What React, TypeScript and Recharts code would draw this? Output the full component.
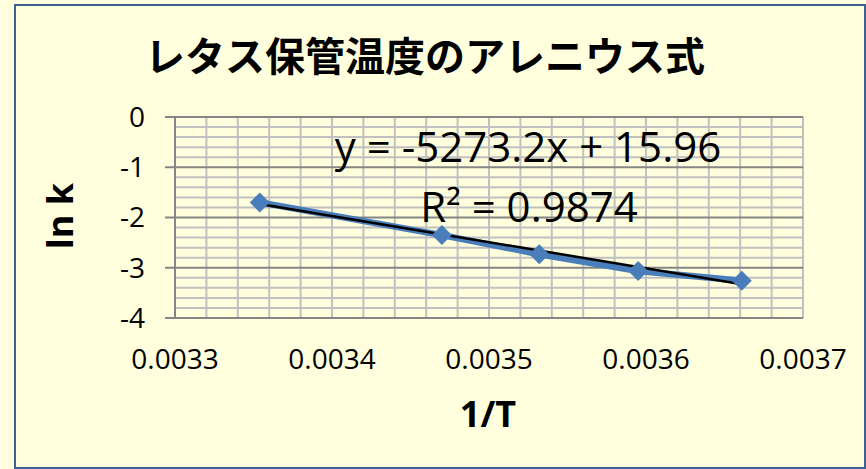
import { ComposedChart, Line, XAxis, YAxis, ReferenceLine } from "recharts";

// 1/T (1/K) at 25, 15, 10, 5, 0 °C and measured ln k
const invT = [0.003354, 0.00347, 0.003532, 0.003595, 0.003661];
const lnK = [-1.7, -2.35, -2.73, -3.065, -3.26];

// linear trend line ends
const trendX = [0.003354, 0.003661];
const trendY = [-1.73, -3.33];

const xTicks = [0.0033, 0.0034, 0.0035, 0.0036, 0.0037];
const yTicks = [0, -1, -2, -3, -4];
const yMajorGrid = [0, -1, -2, -3];
const xMinor = [
  0.00332, 0.00334, 0.00336, 0.00338, 0.0034, 0.00342, 0.00344, 0.00346, 0.00348, 0.0035,
  0.00352, 0.00354, 0.00356, 0.00358, 0.0036, 0.00362, 0.00364, 0.00366, 0.00368, 0.0037,
];
const yMinor = [
  -0.2, -0.4, -0.6, -0.8, -1.2, -1.4, -1.6, -1.8, -2.2, -2.4, -2.6, -2.8, -3.2, -3.4, -3.6, -3.8,
];

const title = "レタス保管温度のアレニウス式";
const eqText = "y = -5273.2x + 15.96";
const r2Text = "R² = 0.9874";

const points = invT.map((x, i) => ({ x, y: lnK[i] }));
const trend = trendX.map((x, i) => ({ x, t: trendY[i] }));

const BG = "#FFFFDD";
const BLUE = "#4A7EBB";
const NUM_FONT = "'Open Sans', 'Noto Sans', sans-serif";

const Diamond = (props: any) => {
  const { cx, cy, index } = props;
  if (cx == null || cy == null) return null;
  const r = 10;
  return (
    <polygon
      key={`d-${index}`}
      points={`${cx},${cy - r} ${cx + r},${cy} ${cx},${cy + r} ${cx - r},${cy}`}
      fill={BLUE}
    />
  );
};

export default function App() {
  return (
    <div style={{ position: "absolute", left: 0, top: 0, width: 866, height: 469, background: BG }}>
      <div
        style={{
          position: "absolute",
          left: 14,
          top: 4,
          width: 852,
          height: 465,
          border: "2px solid #3C628F",
          boxSizing: "border-box",
        }}
      />
      <div style={{ position: "absolute", left: 0, top: 0 }}>
        <ComposedChart width={866} height={469} margin={{ top: 117, right: 63, bottom: 111, left: 115 }}>
          <XAxis
            type="number"
            dataKey="x"
            domain={[0.0033, 0.0037]}
            ticks={xTicks}
            allowDataOverflow
            height={40}
            axisLine={{ stroke: "#868686", strokeWidth: 2 }}
            tickLine={false}
            tickSize={0}
            tickMargin={31}
            tick={{ fill: "#000", fontSize: 28, fontFamily: NUM_FONT }}
          />
          <YAxis
            type="number"
            domain={[-4, 0]}
            ticks={yTicks}
            allowDataOverflow
            width={60}
            axisLine={{ stroke: "#868686", strokeWidth: 2 }}
            tickLine={{ stroke: "#868686", strokeWidth: 2 }}
            tickSize={10}
            tickMargin={20}
            tick={{ fill: "#000", fontSize: 28, fontFamily: NUM_FONT }}
          />
          {yMinor.map((v) => (
            <ReferenceLine key={`hy${v}`} y={v} stroke="#C0C0C0" strokeWidth={2} zIndex={-100} />
          ))}
          {xMinor.map((v) => (
            <ReferenceLine key={`vx${v}`} x={v} stroke="#C0C0C0" strokeWidth={2} zIndex={-100} />
          ))}
          {yMajorGrid.map((v) => (
            <ReferenceLine key={`my${v}`} y={v} stroke="#868686" strokeWidth={2} zIndex={-90} />
          ))}
          <Line
            data={points}
            dataKey="y"
            type="linear"
            stroke={BLUE}
            strokeWidth={6.5}
            dot={<Diamond />}
            activeDot={false}
            isAnimationActive={false}
          />
          <Line
            data={trend}
            dataKey="t"
            type="linear"
            stroke="#000"
            strokeWidth={2.5}
            dot={false}
            activeDot={false}
            isAnimationActive={false}
          />
        </ComposedChart>
      </div>
      <svg
        width={866}
        height={469}
        style={{ position: "absolute", left: 0, top: 0, pointerEvents: "none" }}
      >
        <text
          x={425}
          y={71}
          textAnchor="middle"
          fontSize={40}
          fontWeight="bold"
          fontFamily="'Noto Sans CJK JP', sans-serif"
          fill="#000"
        >
          {title}
        </text>
        <text x={528} y={162} textAnchor="middle" fontSize={42} fontFamily={NUM_FONT} fill="#000">
          {eqText}
        </text>
        <text x={529} y={222} textAnchor="middle" fontSize={42} fontFamily={NUM_FONT} fill="#000">
          {r2Text}
        </text>
        <text x={488} y={427} textAnchor="middle" fontSize={36} fontWeight="bold" fontFamily={NUM_FONT} fill="#000">
          1/T
        </text>
        <text
          x={73}
          y={216}
          textAnchor="middle"
          fontSize={36}
          fontWeight="bold"
          fontFamily={NUM_FONT}
          fill="#000"
          transform="rotate(-90, 73, 216)"
        >
          ln k
        </text>
      </svg>
    </div>
  );
}
